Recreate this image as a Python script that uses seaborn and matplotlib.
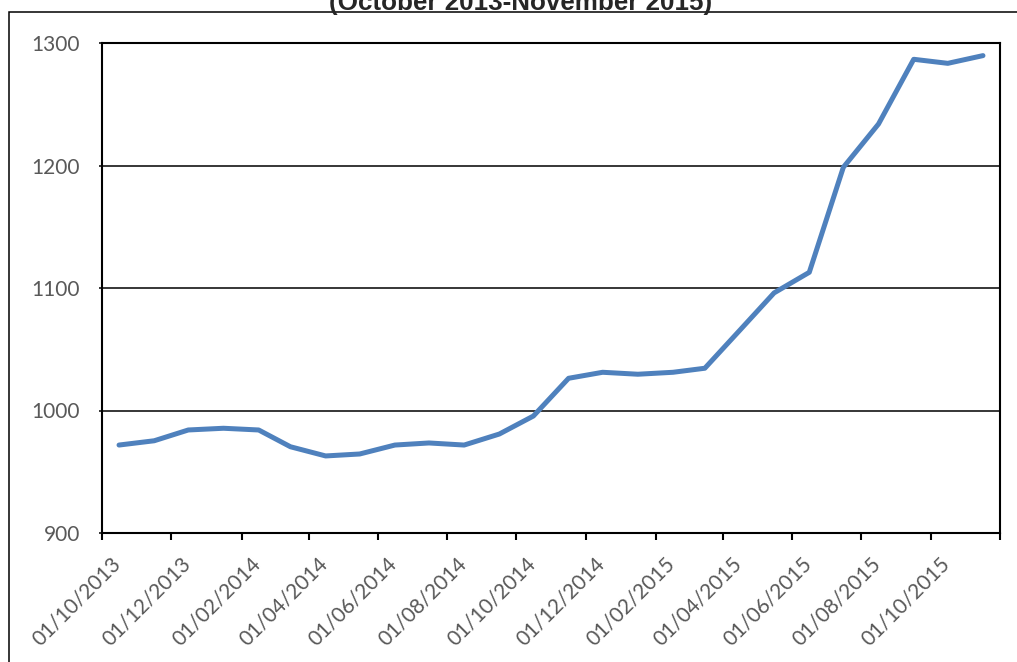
import matplotlib
matplotlib.use('Agg')
import pandas as pd
import seaborn as sns
from matplotlib import pyplot as plt
from matplotlib import transforms
from matplotlib.patches import Rectangle

# monthly values, October 2013 - November 2015
months = pd.date_range('2013-10-01', periods=26, freq='MS')
values = [971.8, 975.3, 984.1, 985.5, 984.1, 970.4, 962.9, 964.5, 971.8, 973.5,
          971.8, 980.8, 995.5, 1026.3, 1031.2, 1029.6, 1031.2, 1034.5, 1065.7, 1096.0,
          1112.8, 1198.5, 1233.9, 1286.7, 1283.4, 1289.7]
tick_dates = pd.date_range('2013-10-01', '2015-12-01', freq='2MS')
tick_labels = [d.strftime('%d/%m/%Y') for d in tick_dates[:-1]] + ['']
y_ticks = [900, 1000, 1100, 1200, 1300]
title = '(October 2013-November 2015)'

sns.set_theme(style='white')
plt.rcParams['font.family'] = ['Lato', 'DejaVu Sans']

# points sit in the middle of each month, like Excel's date axis
df = pd.DataFrame({'month': months + pd.Timedelta(days=15), 'value': values})

W, H = 1017, 662
fig = plt.figure(figsize=(W / 100, H / 100), dpi=100)
fig.patch.set_facecolor('white')
ax = fig.add_axes([102 / W, (H - 533) / H, 898 / W, 490 / H])

sns.lineplot(data=df, x='month', y='value', color='#4F81BD', linewidth=3.6, ax=ax)

ax.set_xlim(months[0], months[-1] + pd.offsets.MonthBegin(1))
ax.set_ylim(900, 1300)
ax.set_yticks(y_ticks)
ax.set_xticks(tick_dates)
ax.set_xticklabels(tick_labels)
ax.set_xlabel('')
ax.set_ylabel('')

ax.yaxis.grid(True, color='black', linewidth=1.1)
ax.xaxis.grid(False)
for sp in ax.spines.values():
    sp.set_visible(True)
    sp.set_color('black')
    sp.set_linewidth(1.5)

ax.tick_params(axis='x', direction='out', length=5, width=1.5, color='black',
               labelsize=15, labelcolor='#595959', pad=15, bottom=True)
ax.tick_params(axis='y', direction='out', length=2, width=1.1, color='black',
               labelsize=15, labelcolor='#595959', pad=14, left=True)

shift = transforms.ScaledTranslation(16 / 100, 0, fig.dpi_scale_trans)
for lbl in ax.get_xticklabels():
    lbl.set_rotation(45)
    lbl.set_ha('right')
    lbl.set_va('center')
    lbl.set_rotation_mode('anchor')
    lbl.set_transform(lbl.get_transform() + shift)

# outer chart border, cut off on the right and bottom
fig.patches.append(Rectangle((9 / W, -0.1), 1.2, (H - 12) / H + 0.1,
                             transform=fig.transFigure, fill=False,
                             edgecolor='black', linewidth=1.1))

# second line of the title; the first line is cropped away above the image
fig.text(521 / W, 1 - 10 / H, title, ha='center', va='baseline',
         fontsize=18.7, fontweight='bold', family=['Liberation Sans', 'DejaVu Sans'])

fig.savefig('out.png', dpi=100)
